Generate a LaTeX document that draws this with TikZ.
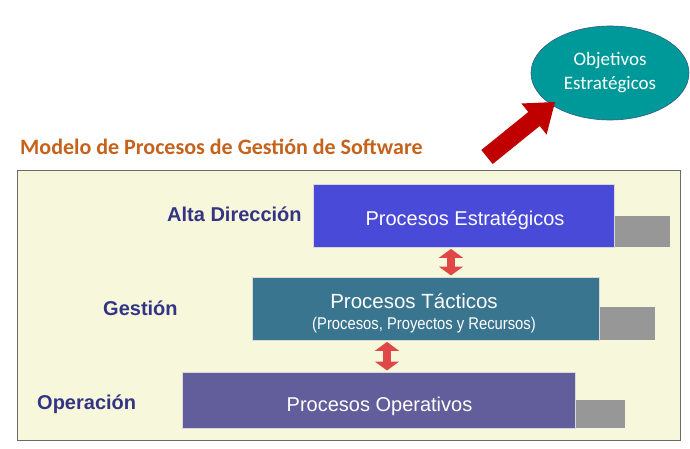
\documentclass[tikz,border=0pt]{standalone}
\usepackage{fontspec}
\setmainfont{Liberation Sans}
\newfontfamily\calibri{Carlito}
\usetikzlibrary{shapes.geometric,arrows.meta,calc}
\definecolor{bgyel}{HTML}{F7F7DC}
\definecolor{boxline}{HTML}{6A6A6A}
\definecolor{estc}{HTML}{4A4AD8}
\definecolor{tacc}{HTML}{3A7590}
\definecolor{opc}{HTML}{615E9B}
\definecolor{shgray}{HTML}{979797}
\definecolor{dblred}{HTML}{E04848}
\definecolor{lblc}{HTML}{343484}
\definecolor{titc}{HTML}{C5621C}
\definecolor{teal}{HTML}{009999}
\definecolor{ellb}{HTML}{2E5C8A}
\definecolor{bigred}{HTML}{C00000}
\tikzset{
  procbox/.style={draw=white!70!gray, line width=0.4pt, inner sep=0pt},
  proctext/.style={text=white, font=\fontsize{20}{23}\selectfont, inner sep=0pt, anchor=base},
  lvl/.style={text=lblc, font=\bfseries\fontsize{20}{23}\selectfont, inner sep=0pt},
  dbl/.style={draw=dblred, line width=8pt, {Triangle[width=24pt,length=9pt]}-{Triangle[width=24pt,length=9pt]}, shorten <=1.5pt, shorten >=1.5pt}
}
\begin{document}
\begin{tikzpicture}[x=1pt,y=-1pt]
\useasboundingbox (0,0) rectangle (690,449);
\fill[white] (0,0) rectangle (690,449);
% outer panel
\node[draw=boxline, fill=bgyel, line width=1.2pt, minimum width=663pt, minimum height=270pt, anchor=north west, inner sep=0pt] (panel) at (17,170) {};
% title
\node[anchor=west, text=titc, font=\calibri\bfseries\fontsize{22}{25}\selectfont, inner sep=0pt] (title) at (20,147) {Modelo de Procesos de Gestión de Software};
% ellipse
\node[ellipse, fill=teal, draw=ellb, line width=0.6pt, minimum width=158pt, minimum height=94pt, inner sep=0pt, text=white, font=\calibri\fontsize{19}{24}\selectfont, align=center] (obj) at (610,73) {Objetivos\\Estratégicos};
% big red arrow
\fill[bigred] (492.7,164.0) -- (539.7,126.0) -- (546.6,134.6) -- (555,102) -- (521.4,103.5) -- (528.3,112.0) -- (481.3,150.0) -- cycle;
% gray shadows
\fill[shgray] (600,216) rectangle (670,247);
\fill[shgray] (585,307) rectangle (655,340);
\fill[shgray] (560,400) rectangle (625,428);
% process boxes
\node[procbox, fill=estc, minimum width=301pt, minimum height=63pt, anchor=north west] (est) at (313,184) {};
\node[procbox, fill=tacc, minimum width=347pt, minimum height=63pt, anchor=north west] (tac) at (252,277) {};
\node[procbox, fill=opc, minimum width=393pt, minimum height=56pt, anchor=north west] (op) at (182,372) {};
\node[proctext] (estt) at (465,225) {Procesos Estratégicos};
\node[proctext, font=\fontsize{20.5}{23}\selectfont] (tact1) at (414,308) {Procesos Tácticos};
\node[proctext] (tact2) at (424,329) {\scalebox{0.87}[1]{\fontsize{17}{19}\selectfont (Procesos, Proyectos y Recursos)}};
\node[proctext] (opt) at (379.5,411) {Procesos Operativos};
% level labels
\node[lvl, anchor=west] (alta) at (167,214) {Alta Dirección};
\node[lvl, anchor=west] (gest) at (103,308) {Gestión};
\node[lvl, anchor=west] (oper) at (37,404) {Operación};
% double arrows
\draw[dbl] ($(est.south west)+(138,0)$) -- ($(tac.north west)+(199,0)$);
\draw[dbl] ($(tac.south west)+(135,0)$) -- ($(op.north west)+(205,0)$);
\end{tikzpicture}
\end{document}
